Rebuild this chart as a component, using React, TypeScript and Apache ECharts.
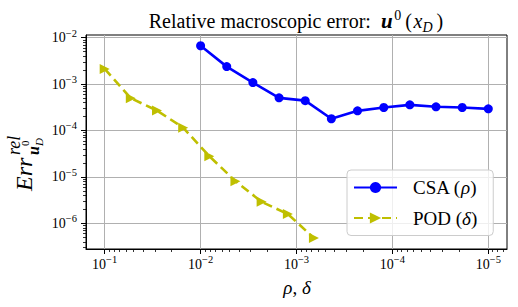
import React, { useEffect, useRef } from "react";
import * as echarts from "echarts";

// ---- data ----
const csaX = [1e-2, 5.34e-3, 2.85e-3, 1.52e-3, 8.11e-4, 4.33e-4, 2.31e-4, 1.23e-4, 6.58e-5, 3.51e-5, 1.87e-5, 1e-5];
const csaY = [6.7e-3, 2.38e-3, 1.08e-3, 5.05e-4, 4.4e-4, 1.79e-4, 2.65e-4, 3.13e-4, 3.57e-4, 3.24e-4, 3.13e-4, 2.93e-4];
const podX = [1e-1, 5.34e-2, 2.85e-2, 1.52e-2, 8.11e-3, 4.33e-3, 2.31e-3, 1.23e-3, 6.58e-4];
const podY = [2.12e-3, 4.98e-4, 2.69e-4, 1.15e-4, 2.8e-5, 8.1e-6, 2.9e-6, 1.58e-6, 4.8e-7];

const xMajor = [1e-1, 1e-2, 1e-3, 1e-4, 1e-5];
const yMajor = [1e-2, 1e-3, 1e-4, 1e-5, 1e-6];
const xMin = Math.pow(10, -5.195);
const xMax = Math.pow(10, -0.805);
const yMin = Math.pow(10, -6.554);
const yMax = Math.pow(10, -1.942);

const seriesNames = ["CSA (ρ)", "POD (δ)"];

function minorTicks(lo: number, hi: number): number[] {
  const out: number[] = [];
  for (let d = -8; d <= 0; d++) {
    for (let k = 2; k <= 9; k++) {
      const v = k * Math.pow(10, d);
      if (v > lo && v < hi) out.push(v);
    }
  }
  return out;
}
const xMinor = minorTicks(xMin, xMax);
const yMinor = minorTicks(yMin, yMax);

const FONT = "Liberation Serif";

const expLabel = (v: number) => {
  const e = Math.round(Math.log10(v));
  return `{b|10}{s|${e < 0 ? "\u2212" : ""}${Math.abs(e)}}`;
};
const tickRich = {
  b: { fontFamily: FONT, fontSize: 14, lineHeight: 20, color: "#000" },
  s: { fontFamily: FONT, fontSize: 10.5, lineHeight: 10, verticalAlign: "top", color: "#000" },
};

const txt = (x: number, y: number, text: string, fontSize: number, extra: any = {}) => ({
  type: "text",
  x,
  y,
  style: {
    text,
    fontFamily: FONT,
    fontSize,
    fill: "#000",
    align: "left",
    verticalAlign: "middle",
    textAlign: "left",
    textVerticalAlign: "middle",
    ...extra,
  },
});

export default function App() {
  const ref = useRef<HTMLDivElement>(null);
  useEffect(() => {
    if (!ref.current) return;
    const chart = echarts.init(ref.current, null, { renderer: "svg" });
    const black = "#000";
    const majorAxisX = {
      type: "log",
      logBase: 10,
      min: xMin,
      max: xMax,
      inverse: true,
      axisLine: { show: true, lineStyle: { color: black, width: 1 } },
      axisTick: { show: true, customValues: xMajor, length: 5, lineStyle: { color: black, width: 1 } },
      axisLabel: { show: true, customValues: xMajor, formatter: expLabel, rich: tickRich, margin: 5, color: black },
      splitLine: { show: true, lineStyle: { color: "#b0b0b0", width: 1 } },
    };
    const minorAxisX = {
      type: "log",
      logBase: 10,
      min: xMin,
      max: xMax,
      inverse: true,
      position: "bottom",
      offset: 0,
      axisLine: { show: false },
      axisTick: { show: true, customValues: xMinor, length: 3, lineStyle: { color: black, width: 0.8 } },
      axisLabel: { show: false },
      splitLine: { show: false },
    };
    const majorAxisY = {
      type: "log",
      logBase: 10,
      min: yMin,
      max: yMax,
      axisLine: { show: true, lineStyle: { color: black, width: 1 } },
      axisTick: { show: true, customValues: yMajor, length: 5, lineStyle: { color: black, width: 1 } },
      axisLabel: { show: true, customValues: yMajor, formatter: expLabel, rich: tickRich, margin: 9, color: black },
      splitLine: { show: true, lineStyle: { color: "#b0b0b0", width: 1 } },
    };
    const minorAxisY = {
      type: "log",
      logBase: 10,
      min: yMin,
      max: yMax,
      position: "left",
      offset: 0,
      axisLine: { show: false },
      axisTick: { show: true, customValues: yMinor, length: 3, lineStyle: { color: black, width: 0.8 } },
      axisLabel: { show: false },
      splitLine: { show: false },
    };

    chart.setOption({
      animation: false,
      backgroundColor: "#fff",
      grid: { left: 86, right: 11, top: 35, bottom: 58, show: true, borderColor: black, borderWidth: 1, backgroundColor: "transparent" },
      xAxis: [majorAxisX, minorAxisX],
      yAxis: [majorAxisY, minorAxisY],
      legend: {
        orient: "vertical",
        left: 347,
        top: 170,
        padding: [8, 16, 8, 6],
        itemWidth: 43,
        itemHeight: 14,
        itemGap: 11.5,
        backgroundColor: "rgba(255,255,255,0.8)",
        borderColor: "#cccccc",
        borderWidth: 1,
        borderRadius: 4,
        data: seriesNames,
        formatter: (name: string) =>
          name.replace("ρ", "{i|ρ}").replace("δ", "{i|δ}"),
        textStyle: {
          fontFamily: FONT,
          fontSize: 19,
          lineHeight: 19,
          color: "#000",
          padding: [0, 0, 0, 11],
          rich: { i: { fontFamily: FONT, fontSize: 19, lineHeight: 19, fontStyle: "italic", color: "#000" } },
        },
      },
      series: [
        {
          name: seriesNames[0],
          type: "line",
          xAxisIndex: 0,
          yAxisIndex: 0,
          data: csaX.map((x, i) => [x, csaY[i]]),
          symbol: "circle",
          symbolSize: 9,
          color: "#0000ff",
          lineStyle: { color: "#0000ff", width: 2.6 },
          itemStyle: { color: "#0000ff" },
          z: 3,
        },
        {
          name: seriesNames[1],
          type: "line",
          xAxisIndex: 0,
          yAxisIndex: 0,
          data: podX.map((x, i) => [x, podY[i]]),
          symbol: "triangle",
          symbolRotate: -90,
          symbolSize: 10,
          color: "#bfbf00",
          lineStyle: { color: "#bfbf00", width: 2.6, type: [9, 5] },
          itemStyle: { color: "#bfbf00" },
          z: 3,
        },
      ],
      graphic: [
        {
          type: "text",
          x: 296,
          y: 21,
          style: {
            text: "Relative macroscopic error:\u2002{bi|u}\u200a{sup|0}\u2009(\u200a{i|x}{sub|D}\u2009)",
            fontFamily: FONT,
            fontSize: 20,
            lineHeight: 26,
            fill: "#000",
            align: "center",
            verticalAlign: "middle",
            textAlign: "center",
            textVerticalAlign: "middle",
            rich: {
              bi: { fontFamily: FONT, fontSize: 21, fontWeight: "bold", fontStyle: "italic", lineHeight: 26 },
              i: { fontFamily: FONT, fontSize: 20, fontStyle: "italic", lineHeight: 26 },
              sup: { fontFamily: FONT, fontSize: 14, lineHeight: 14, verticalAlign: "top" },
              sub: { fontFamily: FONT, fontSize: 14, fontStyle: "italic", lineHeight: 14, verticalAlign: "bottom" },
            },
          },
        },
        {
          type: "text",
          x: 297,
          y: 287,
          style: {
            text: "{i|ρ}, {i|δ}",
            fontFamily: FONT,
            fontSize: 19,
            fill: "#000",
            align: "center",
            verticalAlign: "middle",
            textAlign: "center",
            textVerticalAlign: "middle",
            rich: { i: { fontFamily: FONT, fontSize: 19, fontStyle: "italic" } },
          },
        },
        {
          type: "group",
          x: 31,
          y: 191,
          rotation: Math.PI / 2,
          children: [
            txt(0, -7.5, "Err", 24, { fontStyle: "italic" }),
            txt(36, -17, "rel", 18, { fontStyle: "italic" }),
            txt(36, 2, "u", 16, { fontStyle: "italic", fontWeight: "bold" }),
            txt(45, -6, "0", 11),
            txt(45, 8, "D", 11, { fontStyle: "italic" }),
          ],
        },
      ],
    });
    return () => chart.dispose();
  }, []);
  return <div ref={ref} style={{ width: 518, height: 307, position: "absolute", left: 0, top: 0 }} />;
}
